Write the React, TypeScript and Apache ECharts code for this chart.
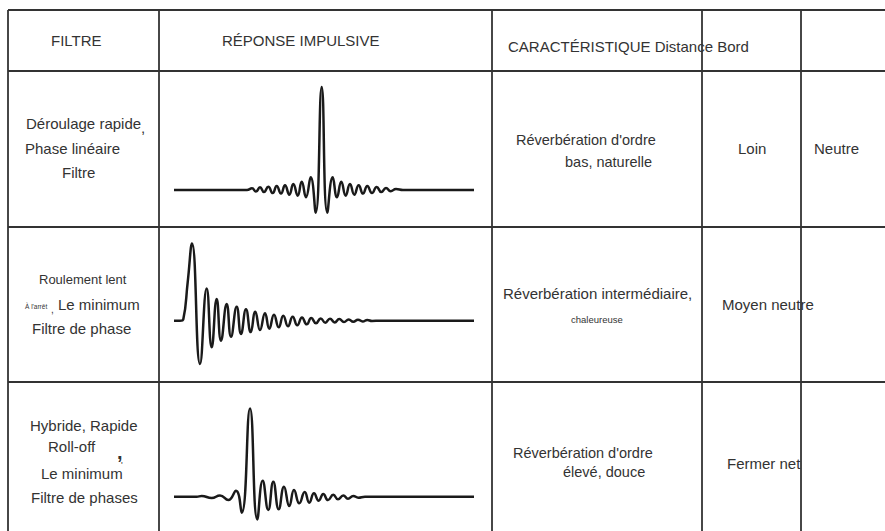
import React, { useEffect, useRef } from "react";
import * as echarts from "echarts";

// ---------- DATA ----------
const headers = ["FILTRE", "RÉPONSE IMPULSIVE", "CARACTÉRISTIQUE Distance Bord"];
const filterRow1 = ["Déroulage rapide", ",", "Phase linéaire", "Filtre"];
const filterRow2 = ["Roulement lent", "À l'arrêt", ",", "Le minimum", "Filtre de phase"];
const filterRow3 = ["Hybride, Rapide", "Roll-off", ",", "Le minimum", "'", "Filtre de phases"];
const characteristics = [
  ["Réverbération d'ordre", "bas, naturelle"],
  ["Réverbération intermédiaire,", "chaleureuse"],
  ["Réverbération d'ordre", "élevé, douce"],
];
const distances = ["Loin", "Moyen neutre", "Fermer net"];
const edges = ["Neutre", "", ""];

// Impulse response 1 : linear-phase (time, amplitude; peak = 100)
const linearTime = [0, 59, 73, 78, 82, 86, 90, 94.3, 98.7, 102.7, 107, 111, 115.3, 119.3, 123.7, 127.7, 132, 136.7, 141.7, 147.7, 153.3, 158.7, 163, 167.3, 171.7, 176, 180.3, 184.7, 189, 193.3, 198, 202.7, 207.3, 212, 216.7, 222, 229, 300];
const linearAmp = [0, 0, 0, 1.6, -1.5, 2.6, -2, 3.2, -3, 3.9, -3.5, 4.6, -4.5, 5.8, -5.5, 8, -7, 12.3, -22, 100, -22, 12.3, -7, 8, -5.5, 5.8, -4.5, 4.6, -3.5, 3.9, -3, 3, -2, 2, -1.2, 1, 0, 0];

// Impulse response 2 : minimum-phase
const minTime = [0, 6, 9.3, 13.7, 18, 26, 32.7, 37.7, 42.7, 47, 52.7, 57, 62.7, 67, 72, 76.7, 81.3, 86, 91, 95.3, 100, 104.7, 109.3, 114, 118.7, 123.3, 128, 132.7, 137.3, 142, 146.7, 151.3, 156, 160.7, 165.3, 170, 174.7, 179.3, 184, 188.7, 193.3, 198, 206, 300];
const minAmp = [0, 0, 2, 50, 100, -56, 41.8, -34.5, 28, -25.9, 21.6, -20.7, 18.1, -17.2, 14.7, -14.7, 11.6, -12.1, 9.5, -10.3, 7.8, -8.6, 6.5, -7.3, 5.2, -6, 4.3, -4.7, 3.4, -3.4, 3, -2.6, 2.6, -2.2, 2.2, -1.7, 1.7, -1.3, 1.3, -0.9, 0.9, -0.4, 0, 0];

// Impulse response 3 : hybrid
const hybridTime = [0, 22.7, 27.7, 37.7, 46, 54.3, 62, 67.7, 76, 83.3, 88.7, 94.3, 99.3, 104.7, 110, 115.3, 120, 125.3, 130.7, 135.3, 140, 144.7, 149.3, 154, 159.3, 164, 169.3, 174, 179.3, 184.3, 191, 300];
const hybridAmp = [0, 0, 0.8, -1.5, 1.5, -3.8, 6.8, -18.1, 100, -25.7, 18.1, -15.1, 17, -14.3, 11.3, -10.6, 7.5, -7.5, 5.3, -6.8, 3.8, -4.5, 3, -3.8, 2.3, -3, 1.5, -2.3, 0.8, -1.1, 0, 0];

// ---------- LAYOUT ----------
const INK = "#333333";
const FONT = "'Liberation Sans', Arial, sans-serif";
const colX = [8, 159, 492, 702, 801];
const rowY = [10, 71, 227, 382];

function pairs(t: number[], a: number[]) {
  return t.map((v, i) => [v, a[i]]);
}

function txt(text: string, x: number, y: number, size = 15, weight: string = "normal") {
  return {
    type: "text",
    x,
    y,
    silent: true,
    style: { text, fontSize: size, fontFamily: FONT, fontWeight: weight, fill: INK, verticalAlign: "middle", align: "left" },
  };
}

export default function App() {
  const ref = useRef<HTMLDivElement>(null);
  useEffect(() => {
    document.body.style.margin = "0";
    if (!ref.current) return;
    const chart = echarts.init(ref.current, null, { renderer: "svg" });

    const lines: any[] = [];
    rowY.forEach((y) =>
      lines.push({ type: "line", silent: true, shape: { x1: colX[0], y1: y, x2: 885, y2: y }, style: { stroke: INK, lineWidth: 1.8 } })
    );
    colX.forEach((x) =>
      lines.push({ type: "line", silent: true, shape: { x1: x, y1: rowY[0], x2: x, y2: 531 }, style: { stroke: INK, lineWidth: 1.8 } })
    );

    const texts: any[] = [
      txt(headers[0], 51, 40),
      txt(headers[1], 222, 40),
      txt(headers[2], 508, 46),
      // row 1
      txt(filterRow1[0], 26, 123),
      txt(filterRow1[1], 141, 127),
      txt(filterRow1[2], 25, 148),
      txt(filterRow1[3], 62, 172),
      txt(characteristics[0][0], 516, 140, 14.5),
      txt(characteristics[0][1], 565, 162, 14.5),
      txt(distances[0], 738, 148),
      txt(edges[0], 814, 148),
      // row 2
      txt(filterRow2[0], 39, 279, 13),
      txt(filterRow2[1], 25, 306, 6.5),
      txt(filterRow2[2], 51, 309, 10),
      txt(filterRow2[3], 58, 304),
      txt(filterRow2[4], 32, 328),
      txt(characteristics[1][0], 503, 293),
      txt(characteristics[1][1], 571, 319, 9.5),
      txt(distances[1], 722, 304),
      // row 3
      txt(filterRow3[0], 30, 425),
      txt(filterRow3[1], 48, 446),
      txt(filterRow3[2], 117, 452, 20, "bold"),
      txt(filterRow3[3], 41, 473),
      txt(filterRow3[4], 121, 465, 9),
      txt(filterRow3[5], 31, 497),
      txt(characteristics[2][0], 513, 453, 14.5),
      txt(characteristics[2][1], 563, 472, 14.5),
      txt(distances[2], 727, 463),
    ];

    const grids = [
      { left: 174, width: 300, top: 76.7, height: 144.2 },
      { left: 174, width: 300, top: 235.7, height: 139.1 },
      { left: 174, width: 300, top: 399.6, height: 123.6 },
    ];
    const yRanges = [
      [-30, 110],
      [-70, 110],
      [-30, 110],
    ];
    const seriesData = [pairs(linearTime, linearAmp), pairs(minTime, minAmp), pairs(hybridTime, hybridAmp)];

    chart.setOption({
      animation: false,
      backgroundColor: "#ffffff",
      grid: grids,
      xAxis: grids.map((_, i) => ({ type: "value", gridIndex: i, min: 0, max: 300, show: false })),
      yAxis: grids.map((_, i) => ({ type: "value", gridIndex: i, min: yRanges[i][0], max: yRanges[i][1], show: false })),
      series: seriesData.map((d, i) => ({
        type: "line",
        xAxisIndex: i,
        yAxisIndex: i,
        data: d,
        smooth: 0.5,
        showSymbol: false,
        symbol: "none",
        silent: true,
        lineStyle: { color: "#1a1a1a", width: 2.5 },
      })),
      graphic: [...lines, ...texts],
    });
    return () => chart.dispose();
  }, []);
  return <div ref={ref} style={{ width: 885, height: 531 }} />;
}
